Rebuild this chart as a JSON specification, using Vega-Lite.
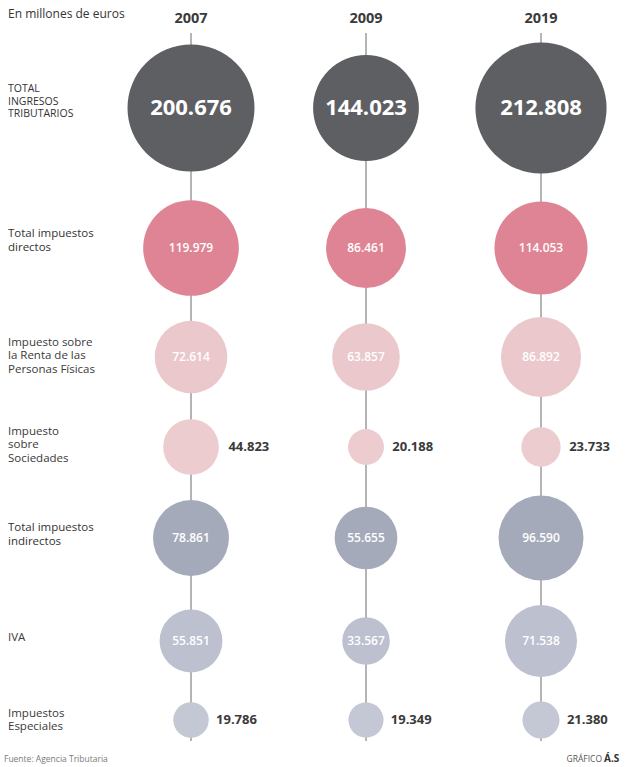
{
  "$schema": "https://vega.github.io/schema/vega-lite/v6.json",
  "padding": 0,
  "spacing": 0,
  "bounds": "flush",
  "background": "white",
  "config": {
    "view": {"stroke": null},
    "text": {"font": "Open Sans"},
    "locale": {"number": {"decimal": ",", "thousands": ".", "grouping": [3], "currency": ["", " €"]}}
  },
  "datasets": {
    "vals": [
      {"row": "Total ingresos tributarios", "year": "2007", "value": 200676},
      {"row": "Total ingresos tributarios", "year": "2009", "value": 144023},
      {"row": "Total ingresos tributarios", "year": "2019", "value": 212808},
      {"row": "Total impuestos directos", "year": "2007", "value": 119979},
      {"row": "Total impuestos directos", "year": "2009", "value": 86461},
      {"row": "Total impuestos directos", "year": "2019", "value": 114053},
      {"row": "IRPF", "year": "2007", "value": 72614},
      {"row": "IRPF", "year": "2009", "value": 63857},
      {"row": "IRPF", "year": "2019", "value": 86892},
      {"row": "Sociedades", "year": "2007", "value": 44823},
      {"row": "Sociedades", "year": "2009", "value": 20188},
      {"row": "Sociedades", "year": "2019", "value": 23733},
      {"row": "Total impuestos indirectos", "year": "2007", "value": 78861},
      {"row": "Total impuestos indirectos", "year": "2009", "value": 55655},
      {"row": "Total impuestos indirectos", "year": "2019", "value": 96590},
      {"row": "IVA", "year": "2007", "value": 55851},
      {"row": "IVA", "year": "2009", "value": 33567},
      {"row": "IVA", "year": "2019", "value": 71538},
      {"row": "Impuestos Especiales", "year": "2007", "value": 19786},
      {"row": "Impuestos Especiales", "year": "2009", "value": 19349},
      {"row": "Impuestos Especiales", "year": "2019", "value": 21380}
    ],
    "rows": [
      {"row": "Total ingresos tributarios", "col": "label", "label": "TOTAL\nINGRESOS\nTRIBUTARIOS"},
      {"row": "Total impuestos directos", "col": "label", "label": "Total impuestos\ndirectos"},
      {"row": "IRPF", "col": "label", "label": "Impuesto sobre\nla Renta de las\nPersonas Físicas"},
      {"row": "Sociedades", "col": "label", "label": "Impuesto\nsobre\nSociedades"},
      {"row": "Total impuestos indirectos", "col": "label", "label": "Total impuestos\nindirectos"},
      {"row": "IVA", "col": "label", "label": "IVA"},
      {"row": "Impuestos Especiales", "col": "label", "label": "Impuestos\nEspeciales"}
    ],
    "notes": [
      {"kind": "unit", "col": "label", "text": "En millones de euros"},
      {"kind": "source", "col": "label", "text": "Fuente: Agencia Tributaria"},
      {"kind": "credit", "col": "2019", "text": "GRÁFICO"},
      {"kind": "brand", "col": "2019", "text": "Á.S"}
    ]
  },
  "vconcat": [
    {
      "width": 633, "height": 33,
      "layer": [
        {
          "data": {"name": "notes"},
          "transform": [{"filter": "datum.kind == 'unit'"}],
          "mark": {"type": "text", "align": "left", "dx": -8, "dy": -3, "fontSize": 12, "color": "#333333"},
          "encoding": {
            "x": {"field": "col", "type": "nominal", "scale": {"type": "point", "domain": ["label", "2007", "2009", "2019"], "range": [16, 541], "padding": 0}, "axis": null},
            "text": {"field": "text"}
          }
        },
        {
          "data": {"name": "vals"},
          "transform": [{"filter": "datum.row == 'Total ingresos tributarios'"}],
          "mark": {"type": "text", "fontSize": 14.5, "fontWeight": "bold", "color": "#3a3a3a", "dy": 2},
          "encoding": {
            "x": {"field": "year", "type": "nominal", "scale": {"type": "point", "domain": ["label", "2007", "2009", "2019"], "range": [16, 541], "padding": 0}, "axis": null},
            "text": {"field": "year"}
          }
        }
      ]
    },
    {
      "width": 633, "height": 150,
      "layer": [
        {"data": {"name": "vals"}, "transform": [{"filter": "datum.row == 'Total ingresos tributarios'"}],
         "mark": {"type": "rule", "color": "#6a6a6a", "strokeWidth": 1},
         "encoding": {"x": {"field": "year", "type": "nominal", "scale": {"type": "point", "domain": ["label", "2007", "2009", "2019"], "range": [16, 541], "padding": 0}, "axis": null}}},
        {"data": {"name": "vals"}, "transform": [{"filter": "datum.row == 'Total ingresos tributarios'"}],
         "mark": {"type": "circle", "opacity": 1},
         "encoding": {
           "x": {"field": "year", "type": "nominal", "scale": {"type": "point", "domain": ["label", "2007", "2009", "2019"], "range": [16, 541], "padding": 0}, "axis": null},
           "size": {"field": "value", "type": "quantitative", "scale": {"type": "pow", "exponent": 1.1, "domain": [0, 212808], "range": [0, 17203]}, "legend": null},
           "color": {"field": "row", "type": "nominal", "scale": {"domain": ["Total ingresos tributarios", "Total impuestos directos", "IRPF", "Sociedades", "Total impuestos indirectos", "IVA", "Impuestos Especiales"], "range": ["#5e5f62", "#df8494", "#eac8cb", "#ecccce", "#a5aabb", "#bcc0cf", "#c4c8d5"]}, "legend": null}
         }},
        {"data": {"name": "vals"}, "transform": [{"filter": "datum.row == 'Total ingresos tributarios'"}],
         "mark": {"type": "text", "color": "white", "fontSize": 22, "fontWeight": "bold"},
         "encoding": {
           "x": {"field": "year", "type": "nominal", "scale": {"type": "point", "domain": ["label", "2007", "2009", "2019"], "range": [16, 541], "padding": 0}, "axis": null},
           "text": {"field": "value", "type": "quantitative", "format": ",d"}
         }},
        {"data": {"name": "rows"}, "transform": [{"filter": "datum.row == 'Total ingresos tributarios'"}],
         "mark": {"type": "text", "align": "left", "dx": -8, "dy": -19, "fontSize": 10.5, "lineHeight": 12.5, "lineBreak": "\n", "color": "#333333"},
         "encoding": {
           "x": {"field": "col", "type": "nominal", "scale": {"type": "point", "domain": ["label", "2007", "2009", "2019"], "range": [16, 541], "padding": 0}, "axis": null},
           "text": {"field": "label"}
         }}
      ]
    },
    {
      "width": 633, "height": 130,
      "layer": [
        {"data": {"name": "vals"}, "transform": [{"filter": "datum.row == 'Total impuestos directos'"}],
         "mark": {"type": "rule", "color": "#6a6a6a", "strokeWidth": 1},
         "encoding": {"x": {"field": "year", "type": "nominal", "scale": {"type": "point", "domain": ["label", "2007", "2009", "2019"], "range": [16, 541], "padding": 0}, "axis": null}}},
        {"data": {"name": "vals"}, "transform": [{"filter": "datum.row == 'Total impuestos directos'"}],
         "mark": {"type": "circle", "opacity": 1},
         "encoding": {
           "x": {"field": "year", "type": "nominal", "scale": {"type": "point", "domain": ["label", "2007", "2009", "2019"], "range": [16, 541], "padding": 0}, "axis": null},
           "size": {"field": "value", "type": "quantitative", "scale": {"type": "pow", "exponent": 1.1, "domain": [0, 212808], "range": [0, 17203]}, "legend": null},
           "color": {"field": "row", "type": "nominal", "scale": {"domain": ["Total ingresos tributarios", "Total impuestos directos", "IRPF", "Sociedades", "Total impuestos indirectos", "IVA", "Impuestos Especiales"], "range": ["#5e5f62", "#df8494", "#eac8cb", "#ecccce", "#a5aabb", "#bcc0cf", "#c4c8d5"]}, "legend": null}
         }},
        {"data": {"name": "vals"}, "transform": [{"filter": "datum.row == 'Total impuestos directos'"}],
         "mark": {"type": "text", "color": "white", "fontSize": 12, "fontWeight": 600},
         "encoding": {
           "x": {"field": "year", "type": "nominal", "scale": {"type": "point", "domain": ["label", "2007", "2009", "2019"], "range": [16, 541], "padding": 0}, "axis": null},
           "text": {"field": "value", "type": "quantitative", "format": ",d"}
         }},
        {"data": {"name": "rows"}, "transform": [{"filter": "datum.row == 'Total impuestos directos'"}],
         "mark": {"type": "text", "align": "left", "dx": -8, "dy": -14, "fontSize": 11.5, "lineHeight": 13.5, "lineBreak": "\n", "color": "#333333"},
         "encoding": {
           "x": {"field": "col", "type": "nominal", "scale": {"type": "point", "domain": ["label", "2007", "2009", "2019"], "range": [16, 541], "padding": 0}, "axis": null},
           "text": {"field": "label"}
         }}
      ]
    },
    {
      "width": 633, "height": 88,
      "layer": [
        {"data": {"name": "vals"}, "transform": [{"filter": "datum.row == 'IRPF'"}],
         "mark": {"type": "rule", "color": "#6a6a6a", "strokeWidth": 1},
         "encoding": {"x": {"field": "year", "type": "nominal", "scale": {"type": "point", "domain": ["label", "2007", "2009", "2019"], "range": [16, 541], "padding": 0}, "axis": null}}},
        {"data": {"name": "vals"}, "transform": [{"filter": "datum.row == 'IRPF'"}],
         "mark": {"type": "circle", "opacity": 1},
         "encoding": {
           "x": {"field": "year", "type": "nominal", "scale": {"type": "point", "domain": ["label", "2007", "2009", "2019"], "range": [16, 541], "padding": 0}, "axis": null},
           "size": {"field": "value", "type": "quantitative", "scale": {"type": "pow", "exponent": 1.1, "domain": [0, 212808], "range": [0, 17203]}, "legend": null},
           "color": {"field": "row", "type": "nominal", "scale": {"domain": ["Total ingresos tributarios", "Total impuestos directos", "IRPF", "Sociedades", "Total impuestos indirectos", "IVA", "Impuestos Especiales"], "range": ["#5e5f62", "#df8494", "#eac8cb", "#ecccce", "#a5aabb", "#bcc0cf", "#c4c8d5"]}, "legend": null}
         }},
        {"data": {"name": "vals"}, "transform": [{"filter": "datum.row == 'IRPF'"}],
         "mark": {"type": "text", "color": "white", "fontSize": 12, "fontWeight": 600},
         "encoding": {
           "x": {"field": "year", "type": "nominal", "scale": {"type": "point", "domain": ["label", "2007", "2009", "2019"], "range": [16, 541], "padding": 0}, "axis": null},
           "text": {"field": "value", "type": "quantitative", "format": ",d"}
         }},
        {"data": {"name": "rows"}, "transform": [{"filter": "datum.row == 'IRPF'"}],
         "mark": {"type": "text", "align": "left", "dx": -8, "dy": -14.5, "fontSize": 11.5, "lineHeight": 13.5, "lineBreak": "\n", "color": "#3a3a3a"},
         "encoding": {
           "x": {"field": "col", "type": "nominal", "scale": {"type": "point", "domain": ["label", "2007", "2009", "2019"], "range": [16, 541], "padding": 0}, "axis": null},
           "text": {"field": "label"}
         }}
      ]
    },
    {
      "width": 633, "height": 92,
      "layer": [
        {"data": {"name": "vals"}, "transform": [{"filter": "datum.row == 'Sociedades'"}],
         "mark": {"type": "rule", "color": "#6a6a6a", "strokeWidth": 1},
         "encoding": {"x": {"field": "year", "type": "nominal", "scale": {"type": "point", "domain": ["label", "2007", "2009", "2019"], "range": [16, 541], "padding": 0}, "axis": null}}},
        {"data": {"name": "vals"}, "transform": [{"filter": "datum.row == 'Sociedades'"}],
         "mark": {"type": "circle", "opacity": 1},
         "encoding": {
           "x": {"field": "year", "type": "nominal", "scale": {"type": "point", "domain": ["label", "2007", "2009", "2019"], "range": [16, 541], "padding": 0}, "axis": null},
           "size": {"field": "value", "type": "quantitative", "scale": {"type": "pow", "exponent": 1.1, "domain": [0, 212808], "range": [0, 17203]}, "legend": null},
           "color": {"field": "row", "type": "nominal", "scale": {"domain": ["Total ingresos tributarios", "Total impuestos directos", "IRPF", "Sociedades", "Total impuestos indirectos", "IVA", "Impuestos Especiales"], "range": ["#5e5f62", "#df8494", "#eac8cb", "#ecccce", "#a5aabb", "#bcc0cf", "#c4c8d5"]}, "legend": null}
         }},
        {"data": {"name": "vals"}, "transform": [{"filter": "datum.row == 'Sociedades'"}],
         "mark": {"type": "text", "color": "#3a3a3a", "fontSize": 13, "fontWeight": "bold", "align": "left", "dx": 6},
         "encoding": {
           "x": {"field": "year", "type": "nominal", "scale": {"type": "point", "domain": ["label", "2007", "2009", "2019"], "range": [16, 541], "padding": 0}, "axis": null},
           "xOffset": {"field": "value", "type": "quantitative", "scale": {"type": "pow", "exponent": 0.55, "domain": [0, 212808], "range": [0, 74]}},
           "text": {"field": "value", "type": "quantitative", "format": ",d"}
         }},
        {"data": {"name": "rows"}, "transform": [{"filter": "datum.row == 'Sociedades'"}],
         "mark": {"type": "text", "align": "left", "dx": -8, "dy": -15.5, "fontSize": 11.5, "lineHeight": 13.5, "lineBreak": "\n", "color": "#3a3a3a"},
         "encoding": {
           "x": {"field": "col", "type": "nominal", "scale": {"type": "point", "domain": ["label", "2007", "2009", "2019"], "range": [16, 541], "padding": 0}, "axis": null},
           "text": {"field": "label"}
         }}
      ]
    },
    {
      "width": 633, "height": 90,
      "layer": [
        {"data": {"name": "vals"}, "transform": [{"filter": "datum.row == 'Total impuestos indirectos'"}],
         "mark": {"type": "rule", "color": "#6a6a6a", "strokeWidth": 1},
         "encoding": {"x": {"field": "year", "type": "nominal", "scale": {"type": "point", "domain": ["label", "2007", "2009", "2019"], "range": [16, 541], "padding": 0}, "axis": null}}},
        {"data": {"name": "vals"}, "transform": [{"filter": "datum.row == 'Total impuestos indirectos'"}],
         "mark": {"type": "circle", "opacity": 1},
         "encoding": {
           "x": {"field": "year", "type": "nominal", "scale": {"type": "point", "domain": ["label", "2007", "2009", "2019"], "range": [16, 541], "padding": 0}, "axis": null},
           "size": {"field": "value", "type": "quantitative", "scale": {"type": "pow", "exponent": 1.1, "domain": [0, 212808], "range": [0, 17203]}, "legend": null},
           "color": {"field": "row", "type": "nominal", "scale": {"domain": ["Total ingresos tributarios", "Total impuestos directos", "IRPF", "Sociedades", "Total impuestos indirectos", "IVA", "Impuestos Especiales"], "range": ["#5e5f62", "#df8494", "#eac8cb", "#ecccce", "#a5aabb", "#bcc0cf", "#c4c8d5"]}, "legend": null}
         }},
        {"data": {"name": "vals"}, "transform": [{"filter": "datum.row == 'Total impuestos indirectos'"}],
         "mark": {"type": "text", "color": "white", "fontSize": 12, "fontWeight": 600},
         "encoding": {
           "x": {"field": "year", "type": "nominal", "scale": {"type": "point", "domain": ["label", "2007", "2009", "2019"], "range": [16, 541], "padding": 0}, "axis": null},
           "text": {"field": "value", "type": "quantitative", "format": ",d"}
         }},
        {"data": {"name": "rows"}, "transform": [{"filter": "datum.row == 'Total impuestos indirectos'"}],
         "mark": {"type": "text", "align": "left", "dx": -8, "dy": -10, "fontSize": 11.5, "lineHeight": 13.5, "lineBreak": "\n", "color": "#333333"},
         "encoding": {
           "x": {"field": "col", "type": "nominal", "scale": {"type": "point", "domain": ["label", "2007", "2009", "2019"], "range": [16, 541], "padding": 0}, "axis": null},
           "text": {"field": "label"}
         }}
      ]
    },
    {
      "width": 633, "height": 116,
      "layer": [
        {"data": {"name": "vals"}, "transform": [{"filter": "datum.row == 'IVA'"}],
         "mark": {"type": "rule", "color": "#6a6a6a", "strokeWidth": 1},
         "encoding": {"x": {"field": "year", "type": "nominal", "scale": {"type": "point", "domain": ["label", "2007", "2009", "2019"], "range": [16, 541], "padding": 0}, "axis": null}}},
        {"data": {"name": "vals"}, "transform": [{"filter": "datum.row == 'IVA'"}],
         "mark": {"type": "circle", "opacity": 1},
         "encoding": {
           "x": {"field": "year", "type": "nominal", "scale": {"type": "point", "domain": ["label", "2007", "2009", "2019"], "range": [16, 541], "padding": 0}, "axis": null},
           "size": {"field": "value", "type": "quantitative", "scale": {"type": "pow", "exponent": 1.1, "domain": [0, 212808], "range": [0, 17203]}, "legend": null},
           "color": {"field": "row", "type": "nominal", "scale": {"domain": ["Total ingresos tributarios", "Total impuestos directos", "IRPF", "Sociedades", "Total impuestos indirectos", "IVA", "Impuestos Especiales"], "range": ["#5e5f62", "#df8494", "#eac8cb", "#ecccce", "#a5aabb", "#bcc0cf", "#c4c8d5"]}, "legend": null}
         }},
        {"data": {"name": "vals"}, "transform": [{"filter": "datum.row == 'IVA'"}],
         "mark": {"type": "text", "color": "white", "fontSize": 12, "fontWeight": 600},
         "encoding": {
           "x": {"field": "year", "type": "nominal", "scale": {"type": "point", "domain": ["label", "2007", "2009", "2019"], "range": [16, 541], "padding": 0}, "axis": null},
           "text": {"field": "value", "type": "quantitative", "format": ",d"}
         }},
        {"data": {"name": "rows"}, "transform": [{"filter": "datum.row == 'IVA'"}],
         "mark": {"type": "text", "align": "left", "dx": -8, "dy": -3, "fontSize": 11.5, "lineHeight": 13.5, "lineBreak": "\n", "color": "#3a3a3a"},
         "encoding": {
           "x": {"field": "col", "type": "nominal", "scale": {"type": "point", "domain": ["label", "2007", "2009", "2019"], "range": [16, 541], "padding": 0}, "axis": null},
           "text": {"field": "label"}
         }}
      ]
    },
    {
      "width": 633, "height": 42,
      "layer": [
        {"data": {"name": "vals"}, "transform": [{"filter": "datum.row == 'Impuestos Especiales'"}],
         "mark": {"type": "rule", "color": "#6a6a6a", "strokeWidth": 1},
         "encoding": {"x": {"field": "year", "type": "nominal", "scale": {"type": "point", "domain": ["label", "2007", "2009", "2019"], "range": [16, 541], "padding": 0}, "axis": null}}},
        {"data": {"name": "vals"}, "transform": [{"filter": "datum.row == 'Impuestos Especiales'"}],
         "mark": {"type": "circle", "opacity": 1},
         "encoding": {
           "x": {"field": "year", "type": "nominal", "scale": {"type": "point", "domain": ["label", "2007", "2009", "2019"], "range": [16, 541], "padding": 0}, "axis": null},
           "size": {"field": "value", "type": "quantitative", "scale": {"type": "pow", "exponent": 1.1, "domain": [0, 212808], "range": [0, 17203]}, "legend": null},
           "color": {"field": "row", "type": "nominal", "scale": {"domain": ["Total ingresos tributarios", "Total impuestos directos", "IRPF", "Sociedades", "Total impuestos indirectos", "IVA", "Impuestos Especiales"], "range": ["#5e5f62", "#df8494", "#eac8cb", "#ecccce", "#a5aabb", "#bcc0cf", "#c4c8d5"]}, "legend": null}
         }},
        {"data": {"name": "vals"}, "transform": [{"filter": "datum.row == 'Impuestos Especiales'"}],
         "mark": {"type": "text", "color": "#3a3a3a", "fontSize": 13, "fontWeight": "bold", "align": "left", "dx": 5},
         "encoding": {
           "x": {"field": "year", "type": "nominal", "scale": {"type": "point", "domain": ["label", "2007", "2009", "2019"], "range": [16, 541], "padding": 0}, "axis": null},
           "xOffset": {"field": "value", "type": "quantitative", "scale": {"type": "pow", "exponent": 0.55, "domain": [0, 212808], "range": [0, 74]}},
           "text": {"field": "value", "type": "quantitative", "format": ",d"}
         }},
        {"data": {"name": "rows"}, "transform": [{"filter": "datum.row == 'Impuestos Especiales'"}],
         "mark": {"type": "text", "align": "left", "dx": -8, "dy": -6.5, "fontSize": 11.5, "lineHeight": 13.5, "lineBreak": "\n", "color": "#3a3a3a"},
         "encoding": {
           "x": {"field": "col", "type": "nominal", "scale": {"type": "point", "domain": ["label", "2007", "2009", "2019"], "range": [16, 541], "padding": 0}, "axis": null},
           "text": {"field": "label"}
         }}
      ]
    },
    {
      "width": 633, "height": 26,
      "layer": [
        {
          "data": {"name": "notes"},
          "transform": [{"filter": "datum.kind == 'source'"}],
          "mark": {"type": "text", "align": "left", "dx": -12, "dy": 5, "fontSize": 8.5, "color": "#7a7a7a"},
          "encoding": {
            "x": {"field": "col", "type": "nominal", "scale": {"type": "point", "domain": ["label", "2007", "2009", "2019"], "range": [16, 541], "padding": 0}, "axis": null},
            "text": {"field": "text"}
          }
        },
        {
          "data": {"name": "notes"},
          "transform": [{"filter": "datum.kind == 'credit'"}],
          "mark": {"type": "text", "align": "right", "dx": 61, "dy": 5, "fontSize": 8.5, "color": "#555555"},
          "encoding": {
            "x": {"field": "col", "type": "nominal", "scale": {"type": "point", "domain": ["label", "2007", "2009", "2019"], "range": [16, 541], "padding": 0}, "axis": null},
            "text": {"field": "text"}
          }
        },
        {
          "data": {"name": "notes"},
          "transform": [{"filter": "datum.kind == 'brand'"}],
          "mark": {"type": "text", "align": "left", "dx": 63, "dy": 5, "fontSize": 10, "fontWeight": "bold", "color": "#333333"},
          "encoding": {
            "x": {"field": "col", "type": "nominal", "scale": {"type": "point", "domain": ["label", "2007", "2009", "2019"], "range": [16, 541], "padding": 0}, "axis": null},
            "text": {"field": "text"}
          }
        }
      ]
    }
  ]
}
